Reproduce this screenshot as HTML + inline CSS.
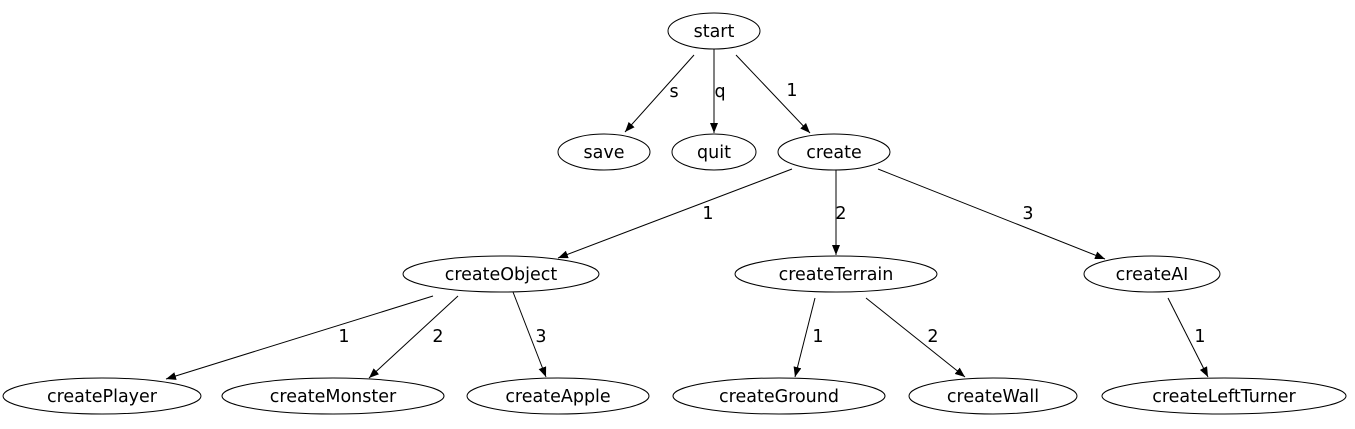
<!DOCTYPE html>
<html><head><meta charset="utf-8"><style>
html,body{margin:0;padding:0;background:#fff;}
svg{display:block;}
text{font-family:"DejaVu Sans","Liberation Sans",sans-serif;font-size:17.5px;fill:#000;}
</style></head><body>
<svg width="1355" height="429" viewBox="0 0 1355 429" xmlns="http://www.w3.org/2000/svg">
<defs><marker id="a" markerWidth="10" markerHeight="8" refX="10" refY="4" orient="auto" markerUnits="userSpaceOnUse"><path d="M0,0 L10,4 L0,8 Z" fill="#000"/></marker></defs>
<g fill="none" stroke="#000" stroke-width="1">
<ellipse cx="714" cy="31" rx="46" ry="18"/>
<ellipse cx="604" cy="152" rx="46" ry="18"/>
<ellipse cx="714" cy="152" rx="42" ry="18"/>
<ellipse cx="834" cy="152" rx="56" ry="18"/>
<ellipse cx="501" cy="274" rx="98" ry="18"/>
<ellipse cx="836" cy="274" rx="101" ry="18"/>
<ellipse cx="1152" cy="274" rx="68" ry="18"/>
<ellipse cx="102" cy="396" rx="99" ry="18"/>
<ellipse cx="333" cy="396" rx="111" ry="18"/>
<ellipse cx="558" cy="396" rx="91" ry="18"/>
<ellipse cx="779" cy="396" rx="106" ry="18"/>
<ellipse cx="993" cy="396" rx="84" ry="18"/>
<ellipse cx="1224" cy="396" rx="122" ry="18"/>
<g marker-end="url(#a)">
<line x1="694" y1="55" x2="625" y2="132"/>
<line x1="714" y1="49" x2="714" y2="133"/>
<line x1="736" y1="55" x2="810" y2="133"/>
<line x1="792" y1="169" x2="558" y2="258"/>
<line x1="836" y1="170" x2="836" y2="255"/>
<line x1="878" y1="169" x2="1105" y2="259"/>
<line x1="433" y1="296" x2="166" y2="379"/>
<line x1="458" y1="296" x2="369" y2="378"/>
<line x1="513" y1="292" x2="546" y2="377"/>
<line x1="815" y1="298" x2="795" y2="377"/>
<line x1="866" y1="298" x2="965" y2="377"/>
<line x1="1168" y1="298" x2="1208" y2="377"/>
</g></g>
<g text-anchor="middle">
<text x="714" y="37">start</text>
<text x="604" y="158">save</text>
<text x="714" y="158">quit</text>
<text x="834" y="158">create</text>
<text x="501" y="280">createObject</text>
<text x="836" y="280">createTerrain</text>
<text x="1152" y="280">createAI</text>
<text x="102" y="402">createPlayer</text>
<text x="333" y="402">createMonster</text>
<text x="558" y="402">createApple</text>
<text x="779" y="402">createGround</text>
<text x="993" y="402">createWall</text>
<text x="1224" y="402">createLeftTurner</text>
<text x="674" y="97">s</text>
<text x="720" y="97">q</text>
<text x="792" y="96">1</text>
<text x="708" y="219">1</text>
<text x="841" y="219">2</text>
<text x="1028" y="219">3</text>
<text x="344" y="342">1</text>
<text x="438" y="342">2</text>
<text x="541" y="342">3</text>
<text x="818" y="342">1</text>
<text x="933" y="342">2</text>
<text x="1200" y="342">1</text>
</g>
</svg>
</body></html>
